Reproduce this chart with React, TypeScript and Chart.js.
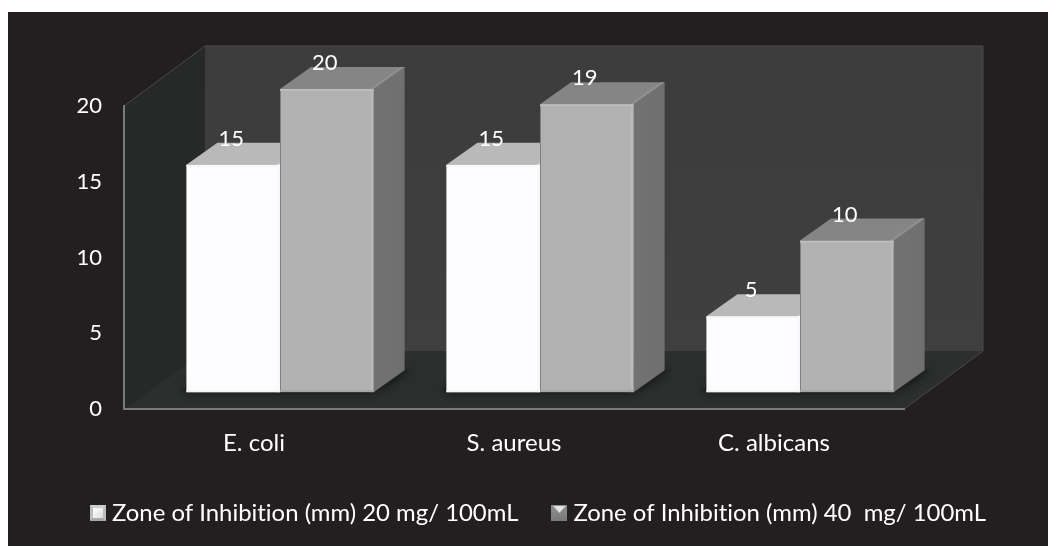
import React, { useEffect, useRef } from "react";
import { Chart, registerables } from "chart.js";

Chart.register(...registerables);

const categories = ["E. coli", "S. aureus", "C. albicans"];
const seriesNames = ["Zone of Inhibition (mm) 20 mg/ 100mL", "Zone of Inhibition (mm) 40  mg/ 100mL"];
const values20 = [15, 15, 5];
const values40 = [20, 19, 10];
const yTicks = [0, 5, 10, 15, 20];

const FONT = "Lato, Carlito, sans-serif";
const WALL_DX_L = 81;
const WALL_DX_R = 79;
const WALL_DY_TOP = 60;
const WALL_DY = 58;
const BAR_DX = 31;
const BAR_DY = 22;

function poly(ctx: CanvasRenderingContext2D, pts: number[][], fill: string | CanvasGradient) {
  ctx.beginPath();
  pts.forEach((p, i) => (i ? ctx.lineTo(p[0], p[1]) : ctx.moveTo(p[0], p[1])));
  ctx.closePath();
  ctx.fillStyle = fill;
  ctx.fill();
}

function swatchLight() {
  const c = document.createElement("canvas");
  c.width = 16;
  c.height = 16;
  const x = c.getContext("2d")!;
  x.fillStyle = "#bdbdbd";
  x.fillRect(0, 0, 16, 16);
  poly(x, [[0, 0], [16, 0], [13, 3], [3, 3]], "#cfcfcf");
  poly(x, [[0, 16], [16, 16], [13, 13], [3, 13]], "#a8a8a8");
  const g = x.createLinearGradient(3, 3, 13, 13);
  g.addColorStop(0, "#ffffff");
  g.addColorStop(1, "#dddddd");
  x.fillStyle = g;
  x.fillRect(3, 3, 10, 10);
  return c;
}

function swatchGray() {
  const c = document.createElement("canvas");
  c.width = 16;
  c.height = 16;
  const x = c.getContext("2d")!;
  const g = x.createLinearGradient(0, 0, 0, 16);
  g.addColorStop(0, "#8f8f8f");
  g.addColorStop(1, "#7a7a7a");
  x.fillStyle = g;
  x.fillRect(0, 0, 16, 16);
  poly(x, [[2, 1], [14, 1], [8, 8]], "#e6e6e6");
  return c;
}

const scene = {
  id: "scene3d",
  beforeLayout(chart: any) {
    // a non-zero spacing keeps the text free of the "ti" ligature
    chart.ctx.letterSpacing = "0.01px";
  },
  beforeDraw(chart: any) {
    const { ctx, chartArea: a } = chart;
    const l = a.left, r = a.right, t = a.top, b = a.bottom;
    const bl = l + WALL_DX_L, br = r + WALL_DX_R, bt = t - WALL_DY_TOP, bb = b - WALL_DY;
    ctx.save();
    // back wall
    const g = ctx.createLinearGradient(0, bt, 0, bb);
    g.addColorStop(0, "#3c3c3c");
    g.addColorStop(1, "#3f3f3f");
    poly(ctx, [[bl, bt], [br, bt], [br, bb], [bl, bb]], g);
    // side wall
    poly(ctx, [[l, t], [bl, bt], [bl, bb], [l, b]], "#262928");
    // floor
    poly(ctx, [[l, b], [bl, bb], [br, bb], [r, b]], "#2c2f2e");
    // thin edges
    ctx.strokeStyle = "#4a4a4a";
    ctx.lineWidth = 1;
    ctx.beginPath();
    ctx.moveTo(l, t);
    ctx.lineTo(bl, bt);
    ctx.lineTo(br, bt);
    ctx.lineTo(br, bb);
    ctx.lineTo(r, b);
    ctx.stroke();
    ctx.restore();
  },
  beforeDatasetsDraw(chart: any) {
    const { ctx } = chart;
    const metas = chart.getSortedVisibleDatasetMetas();
    ctx.save();
    // shadows on floor
    metas[1].data.forEach((el: any, i: number) => {
      const first = metas[0].data[i];
      const left = first.x - first.width / 2;
      const right = el.x + el.width / 2;
      ctx.save();
      ctx.shadowColor = "rgba(0,0,0,0.7)";
      ctx.shadowBlur = 12;
      poly(ctx, [[left - 6, el.base - 1], [right, el.base - 1], [right + BAR_DX + 6, el.base - BAR_DY], [left + BAR_DX, el.base - BAR_DY]], "#1e2120");
      ctx.restore();
    });
    const faces = [
      { top: "#b9b9b9", topEdge: "#c4c4c4", side: "#8d8d8d" },
      { top: "#858585", topEdge: "#8f8f8f", side: "#727272" },
    ];
    metas.forEach((meta: any, di: number) => {
      meta.data.forEach((el: any) => {
        const x0 = el.x - el.width / 2, x1 = el.x + el.width / 2, y0 = el.y, y1 = el.base;
        const side = ctx.createLinearGradient(x1, 0, x1 + BAR_DX, 0);
        side.addColorStop(0, faces[di].side);
        side.addColorStop(1, di ? "#6f6f6f" : "#858585");
        poly(ctx, [[x1, y0], [x1 + BAR_DX, y0 - BAR_DY], [x1 + BAR_DX, y1 - BAR_DY], [x1, y1]], side);
        poly(ctx, [[x0, y0], [x0 + BAR_DX, y0 - BAR_DY], [x1 + BAR_DX, y0 - BAR_DY], [x1, y0]], faces[di].top);
        poly(ctx, [[x1 - 4, y0], [x1 + BAR_DX - 4, y0 - BAR_DY], [x1 + BAR_DX, y0 - BAR_DY], [x1, y0]], faces[di].topEdge);
      });
    });
    ctx.restore();
  },
  afterDatasetsDraw(chart: any) {
    const { ctx } = chart;
    const metas = chart.getSortedVisibleDatasetMetas();
    ctx.save();
    // soft bevels on the front faces
    metas.forEach((meta: any, di: number) => {
      meta.data.forEach((el: any) => {
        const x0 = el.x - el.width / 2, x1 = el.x + el.width / 2;
        ctx.fillStyle = di ? "#bdbdbd" : "#f7f7f7";
        ctx.fillRect(x0, el.y, el.width, 2);
        ctx.fillStyle = di ? "#bababa" : "#f8f9fb";
        ctx.fillRect(x1 - 3, el.y, 3, el.base - el.y);
        ctx.fillStyle = di ? "#a4a4a4" : "#f4f4f4";
        ctx.fillRect(x0, el.base - 2, el.width, 2);
      });
    });
    ctx.fillStyle = "#ffffff";
    ctx.font = `22px ${FONT}`;
    ctx.textAlign = "center";
    ctx.textBaseline = "middle";
    metas.forEach((meta: any, di: number) => {
      const vals = di ? values40 : values20;
      meta.data.forEach((el: any, i: number) => {
        ctx.fillText(String(vals[i]), el.x - 2, el.y - 26);
      });
    });
    ctx.restore();
  },
};

export default function App() {
  const ref = useRef<HTMLCanvasElement>(null);
  useEffect(() => {
    const toXY = (vals: number[]) => vals.map((v, i) => ({ x: i, y: v }));
    const chart = new Chart(ref.current!, {
      type: "bar",
      data: {
        labels: categories,
        datasets: [
          {
            label: seriesNames[0],
            data: toXY(values20),
            xAxisID: "xBars",
            yAxisID: "yBars",
            backgroundColor: "#fdfdff",
            borderWidth: 0,
            categoryPercentage: 0.72,
            barPercentage: 1,
            clip: false,
          },
          {
            label: seriesNames[1],
            data: toXY(values40),
            xAxisID: "xBars",
            yAxisID: "yBars",
            backgroundColor: "#b1b1b1",
            borderColor: "#808080",
            borderWidth: { left: 1, right: 0, top: 0, bottom: 0 },
            categoryPercentage: 0.72,
            barPercentage: 1,
            clip: false,
          },
        ] as any,
      },
      plugins: [scene],
      options: {
        responsive: false,
        animation: false,
        layout: { padding: { left: 34, top: 106, right: 0, bottom: 11 } },
        plugins: {
          tooltip: { enabled: false },
          legend: {
            position: "bottom",
            labels: {
              color: "#ffffff",
              font: { family: FONT, size: 23.9 },
              usePointStyle: true,
              pointStyleWidth: 4,
              padding: 39,
              generateLabels: () => [
                { text: seriesNames[0], pointStyle: swatchLight(), fontColor: "#ffffff", datasetIndex: 0 },
                { text: seriesNames[1], pointStyle: swatchGray(), fontColor: "#ffffff", datasetIndex: 1 },
              ] as any,
            },
          },
        },
        scales: {
          x: {
            type: "category",
            position: "bottom",
            labels: categories,
            offset: true,
            grid: { display: false },
            border: { display: true, color: "#7a7a7a", width: 2 },
            ticks: { color: "#ffffff", font: { family: FONT, size: 24 }, padding: 12, maxRotation: 0 },
            afterFit(s: any) {
              s.height = 53;
            },
          },
          y: {
            type: "linear",
            position: "left",
            min: 0,
            max: 20,
            afterBuildTicks(s: any) {
              s.ticks = yTicks.map((value) => ({ value }));
            },
            grid: { display: false },
            border: { display: true, color: "#7a7a7a", width: 2 },
            ticks: { color: "#ffffff", font: { family: FONT, size: 22 }, padding: 14 },
            afterFit(s: any) {
              s.width = 90;
            },
          },
          xBars: {
            type: "linear",
            display: false,
            offset: false,
            min: -0.6,
            max: 2.4,
            afterBuildTicks(s: any) {
              s.ticks = categories.map((_, value) => ({ value }));
            },
          },
          yBars: {
            type: "linear",
            position: "right",
            display: true,
            min: -1.12,
            max: 18.88,
            grid: { display: false },
            border: { display: false },
            ticks: { display: false },
            afterFit(s: any) {
              s.width = 144;
            },
          },
        },
      } as any,
    });
    return () => chart.destroy();
  }, []);
  return (
    <div style={{ position: "fixed", left: 0, top: 0, width: 1048, height: 546, background: "#fff" }}>
      <div style={{ position: "absolute", left: 8, top: 12, width: 1040, height: 534, background: "#231f20" }} />
      <canvas ref={ref} width={1048} height={546} style={{ position: "absolute", left: 0, top: 0 }} />
    </div>
  );
}
